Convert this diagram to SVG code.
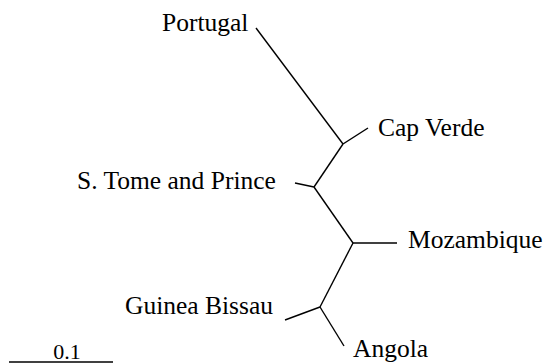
<svg xmlns="http://www.w3.org/2000/svg" width="550" height="363" viewBox="0 0 550 363">
  <style>
    .lbl { font-family: "Liberation Serif", "Times New Roman", serif; font-size: 25.5px; fill: #000; }
    .scale { font-family: "Liberation Serif", "Times New Roman", serif; font-size: 22px; fill: #000; }
    .br { stroke: #000; stroke-width: 1.4; fill: none; stroke-linecap: butt; }
  </style>
  <rect width="550" height="363" fill="#fff"/>
  <!-- tree branches -->
  <g id="connectors">
    <line class="br" x1="256" y1="28" x2="343" y2="144"/>
    <line class="br" x1="343" y1="144" x2="368" y2="128"/>
    <line class="br" x1="343" y1="144" x2="314" y2="187"/>
    <line class="br" x1="295" y1="183" x2="314" y2="187"/>
    <line class="br" x1="314" y1="187" x2="353" y2="243"/>
    <line class="br" x1="353" y1="243" x2="397" y2="243"/>
    <line class="br" x1="353" y1="243" x2="320" y2="307"/>
    <line class="br" x1="285" y1="320" x2="320" y2="307"/>
    <line class="br" x1="320" y1="307" x2="344" y2="346"/>
  </g>
  <!-- leaf labels -->
  <g id="portugal"><text class="lbl" x="162" y="31">Portugal</text></g>
  <g id="cap-verde"><text class="lbl" x="378" y="136">Cap Verde</text></g>
  <g id="s-tome"><text class="lbl" x="77" y="189">S. Tome and Prince</text></g>
  <g id="mozambique"><text class="lbl" x="408" y="248">Mozambique</text></g>
  <g id="guinea-bissau"><text class="lbl" x="125" y="314">Guinea Bissau</text></g>
  <g id="angola"><text class="lbl" x="353" y="357">Angola</text></g>
  <!-- scale bar -->
  <g id="scale-bar">
    <line class="br" x1="9" y1="362" x2="113" y2="362"/>
    <text class="scale" x="67" y="359" text-anchor="middle">0.1</text>
  </g>
</svg>
